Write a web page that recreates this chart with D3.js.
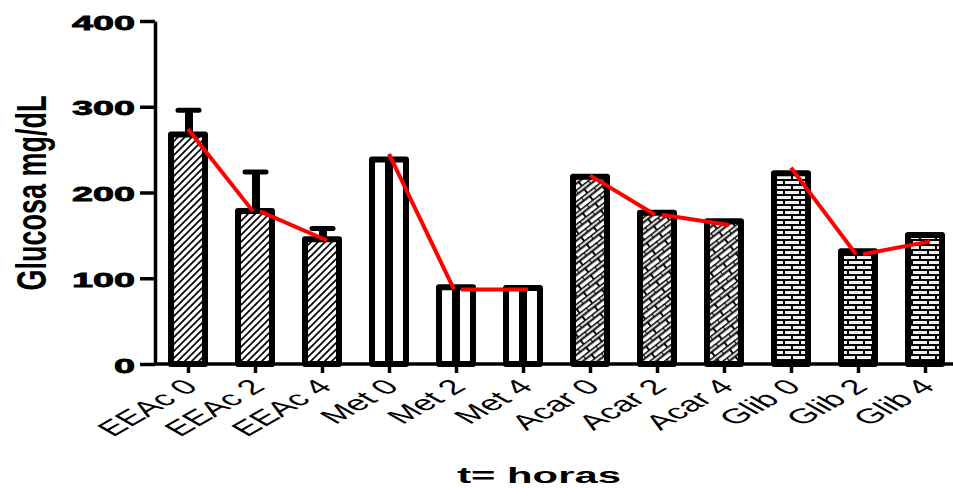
<!DOCTYPE html>
<html>
<head>
<meta charset="utf-8">
<script src="https://cdn.jsdelivr.net/npm/d3@7"></script>
<style>
body { margin: 0; background: #fff; }
text { font-family: "Liberation Sans", Arial, sans-serif; }
</style>
</head>
<body>
<div id="chart"></div>
<script>
var categories = ["EEAc 0", "EEAc 2", "EEAc 4", "Met 0", "Met 2", "Met 4", "Acar 0", "Acar 2", "Acar 4", "Glib 0", "Glib 2", "Glib 4"];
var groupOf = ["EEAc", "EEAc", "EEAc", "Met", "Met", "Met", "Acar", "Acar", "Acar", "Glib", "Glib", "Glib"];
var glucose = [271, 182, 149, 242, 93, 92, 222, 180, 170, 226, 135, 154];
var sem = [25, 42, 9, 0, 0, 0, 0, 0, 0, 0, 0, 0];
var trend = [274, 178, 144, 245, 87, 87, 220, 174, 162, 229, 128, 143];
var yTicks = [0, 100, 200, 300, 400];

var width = 953, height = 488;
var svg = d3.select("#chart").append("svg")
  .attr("width", width).attr("height", height);

var x = d3.scalePoint().domain(categories).range([188, 925]);
var y = d3.scaleLinear().domain([0, 400]).range([364, 21]);
var barW = 34, bw = 6;

// fill patterns
var defs = svg.append("defs");
var hatch = defs.append("pattern").attr("id", "p-EEAc")
  .attr("patternUnits", "userSpaceOnUse").attr("width", 7).attr("height", 7);
hatch.append("rect").attr("width", 7).attr("height", 7).attr("fill", "#fff");
hatch.append("path").attr("d", "M-1,1L1,-1M0,7L7,0M6,8L8,6")
  .attr("stroke", "#000").attr("stroke-width", 1.7);

var met = defs.append("pattern").attr("id", "p-Met")
  .attr("patternUnits", "userSpaceOnUse").attr("width", 10).attr("height", 10);
met.append("rect").attr("width", 10).attr("height", 10).attr("fill", "#fff");

var herr = defs.append("pattern").attr("id", "p-Acar")
  .attr("patternUnits", "userSpaceOnUse").attr("width", 16).attr("height", 9)
  .attr("patternTransform", "rotate(-38)");
herr.append("rect").attr("width", 16).attr("height", 9).attr("fill", "#fff");
herr.append("path").attr("d", "M0,0.5H16M0,0V4.5M8,4.5V9M0,4.5H16")
  .attr("stroke", "#000").attr("stroke-width", 1.9).attr("fill", "none");

var brick = defs.append("pattern").attr("id", "p-Glib")
  .attr("patternUnits", "userSpaceOnUse").attr("width", 16).attr("height", 10);
brick.append("rect").attr("width", 16).attr("height", 10).attr("fill", "#000");
[[1, 1], [-7, 6], [9, 6]].forEach(function (b) {
  brick.append("rect").attr("x", b[0]).attr("y", b[1]).attr("width", 14).attr("height", 3).attr("fill", "#f2f2f2");
});

// error bars (upwards only)
var err = svg.append("g").selectAll("g")
  .data(categories.filter(function (d, i) { return sem[i] > 0; }))
  .enter().append("g");
err.append("line")
  .attr("x1", function (d) { return x(d) + 1; })
  .attr("x2", function (d) { return x(d) + 1; })
  .attr("y1", function (d) { var i = categories.indexOf(d); return y(glucose[i] + sem[i]); })
  .attr("y2", function (d) { return y(glucose[categories.indexOf(d)]) + 4; })
  .attr("stroke", "#000").attr("stroke-width", 8);
err.append("line")
  .attr("x1", function (d) { return x(d) - 10; })
  .attr("x2", function (d) { return x(d) + 11; })
  .attr("y1", function (d) { var i = categories.indexOf(d); return y(glucose[i] + sem[i]); })
  .attr("y2", function (d) { var i = categories.indexOf(d); return y(glucose[i] + sem[i]); })
  .attr("stroke", "#000").attr("stroke-width", 5).attr("stroke-linecap", "round");

// bars
svg.append("g").selectAll("rect")
  .data(categories)
  .enter().append("rect")
  .attr("x", function (d) { return x(d) - barW / 2; })
  .attr("y", function (d, i) { return y(glucose[i]) + bw / 2; })
  .attr("width", barW)
  .attr("height", function (d, i) { return y(0) - y(glucose[i]) - bw / 2; })
  .attr("fill", function (d, i) { return "url(#p-" + groupOf[i] + ")"; })
  .attr("stroke", "#000").attr("stroke-width", bw)
  .attr("stroke-linejoin", "round");

// Met bars carry a single thick centre stripe
svg.append("g").selectAll("line")
  .data(categories.filter(function (d, i) { return groupOf[i] === "Met"; }))
  .enter().append("line")
  .attr("x1", function (d) { return x(d); })
  .attr("x2", function (d) { return x(d); })
  .attr("y1", function (d) { return y(glucose[categories.indexOf(d)]) + 2; })
  .attr("y2", y(0))
  .attr("stroke", "#000").attr("stroke-width", 8);

// red trend segments within each group
var segs = [];
for (var i = 0; i < categories.length - 1; i++) {
  if (groupOf[i] !== groupOf[i + 1]) continue;
  var first = groupOf[i - 1] !== groupOf[i];
  segs.push({ a: i, b: i + 1, o1: first ? 0 : 5, o2: first ? -2 : 5 });
}
svg.append("g").selectAll("line")
  .data(segs)
  .enter().append("line")
  .attr("x1", function (d) { return x(categories[d.a]) + d.o1; })
  .attr("x2", function (d) { return x(categories[d.b]) + d.o2; })
  .attr("y1", function (d) { return y(trend[d.a]); })
  .attr("y2", function (d) { return y(trend[d.b]); })
  .attr("stroke", "#ff0000").attr("stroke-width", 4);

// y axis
var yAxis = svg.append("g").attr("transform", "translate(155,0)")
  .call(d3.axisLeft(y).tickValues(yTicks).tickSize(15).tickSizeOuter(0));
yAxis.select(".domain").attr("stroke-width", 3.5);
yAxis.selectAll(".tick line").attr("stroke-width", 3.5);
yAxis.selectAll(".tick text")
  .attr("x", null).attr("dy", null)
  .attr("transform", "translate(-20,8) scale(1.8,1)")
  .attr("font-size", 21).attr("font-weight", "bold")
  .attr("fill", "#000").attr("stroke", "#000").attr("stroke-width", 0.8);

// x axis
var xAxis = svg.append("g").attr("transform", "translate(0," + y(0) + ")")
  .call(d3.axisBottom(x).tickSize(9).tickSizeOuter(0));
xAxis.select(".domain").remove();
xAxis.append("line").attr("x1", 155).attr("x2", width)
  .attr("stroke", "#000").attr("stroke-width", 3.5);
xAxis.selectAll(".tick line").attr("stroke-width", 3.5);
xAxis.selectAll(".tick text")
  .attr("y", null).attr("dy", null)
  .attr("transform", "translate(11,24) scale(1.75,1) rotate(-45)")
  .attr("text-anchor", "end")
  .attr("font-size", 21).attr("fill", "#000");

// titles
svg.append("text")
  .attr("transform", "translate(30,193) scale(1.6,1) rotate(-90)")
  .attr("text-anchor", "middle").attr("dy", "0.36em")
  .attr("font-size", 27).attr("font-weight", "bold")
  .text("Glucosa mg/dL");

svg.append("text")
  .attr("transform", "translate(539,483) scale(1.9,1)")
  .attr("text-anchor", "middle")
  .attr("font-size", 22).attr("font-weight", "bold")
  .text("t= horas");
</script>
</body>
</html>
